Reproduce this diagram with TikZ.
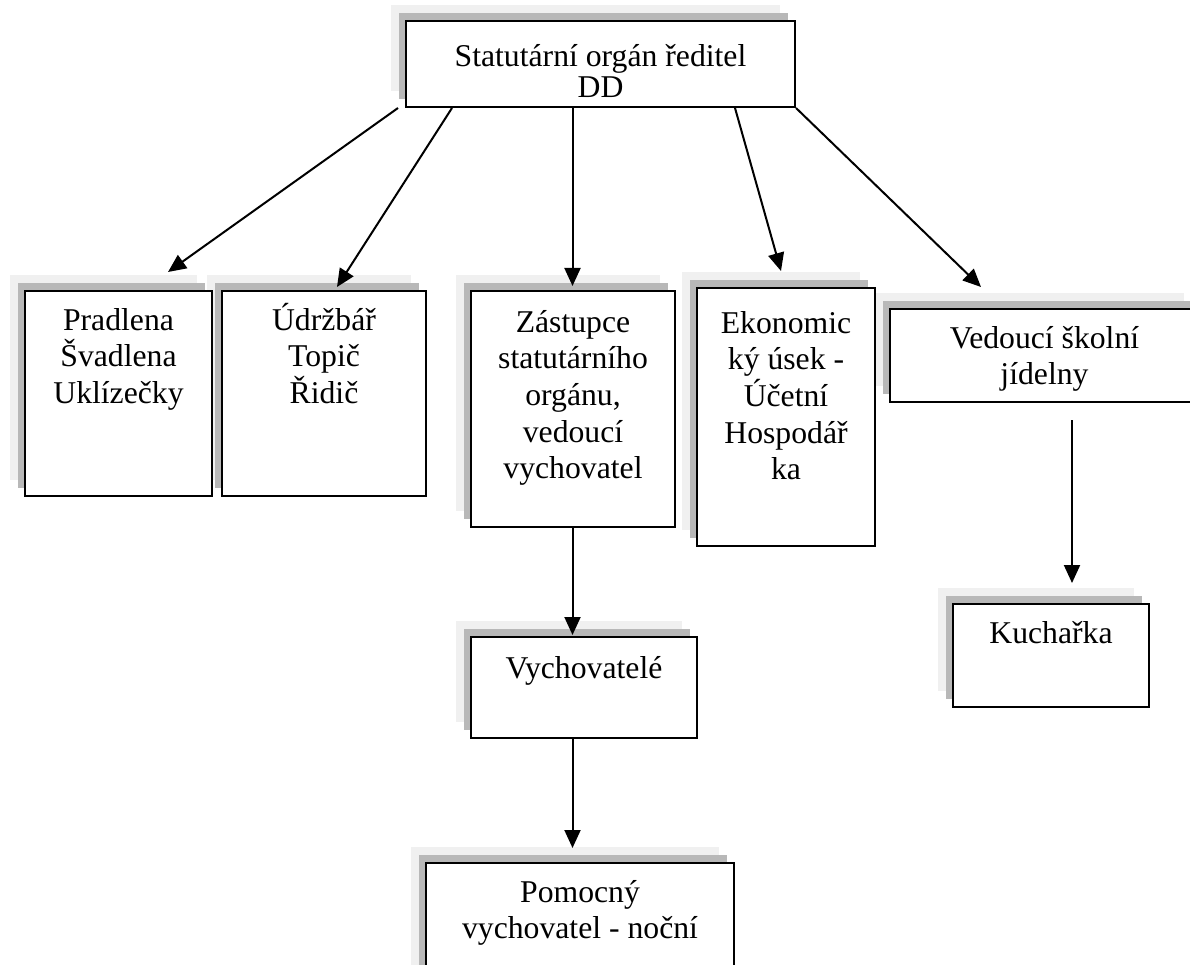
\documentclass[tikz,border=0pt]{standalone}
\usepackage{fontspec}
\setmainfont{Liberation Serif}
\usetikzlibrary{arrows.meta,shadows,calc}
\definecolor{shlight}{HTML}{F0F0F0}
\definecolor{shdark}{HTML}{B8B8B8}
\begin{document}
\begin{tikzpicture}[x=1pt,y=-1pt,
  box/.style={draw=black, line width=2pt, fill=white, rectangle, inner sep=0pt, outer sep=0pt,
    general shadow={fill=shlight, draw=none, shadow xshift=-15pt, shadow yshift=16pt},
    general shadow={fill=shdark, draw=none, shadow xshift=-7.5pt, shadow yshift=8pt}},
  txt/.style={align=center, inner sep=0pt, anchor=base, font=\fontsize{31.7}{36.7}\selectfont},
  conn/.style={line width=2pt, -{Triangle[length=18pt,width=16pt]}}
]
\useasboundingbox (0,0) rectangle (1190,965);

% boxes
\node[box, minimum width=389pt, minimum height=86pt] (top) at (600.5,64) {};
\node[box, minimum width=204pt, minimum height=205pt] (udr) at (324,393.5) {};
\node[box, minimum width=187pt, minimum height=205pt] (pra) at (118.5,393.5) {};
\node[box, minimum width=204pt, minimum height=236pt] (zas) at (573,409) {};
\node[box, minimum width=309pt, minimum height=93pt] (ved) at (1044.5,355.5) {};
\node[box, minimum width=178pt, minimum height=258pt] (eko) at (786,417) {};
\node[box, minimum width=196pt, minimum height=103pt] (kuc) at (1051,655.5) {};
\node[box, minimum width=226pt, minimum height=101pt] (vyc) at (584,687.5) {};
\node[box, minimum width=308pt, minimum height=137pt] (pom) at (580,931.5) {};

% texts (anchor base = baseline of the last line)
\node[txt, font=\fontsize{31.7}{31}\selectfont] (topT) at ([yshift=-77pt]top.north) {Statutární orgán ředitel\\DD};
\node[txt] (praT) at ([yshift=-112.4pt]pra.north) {Pradlena\\Švadlena\\Uklízečky};
\node[txt] (udrT) at ([yshift=-112.4pt]udr.north) {Údržbář\\Topič\\Řidič};
\node[txt] (zasT) at ([yshift=-187.8pt]zas.north) {Zástupce\\statutárního\\orgánu,\\vedoucí\\vychovatel};
\node[txt] (ekoT) at ([yshift=-191.8pt]eko.north) {Ekonomic\\ký úsek -\\Účetní\\Hospodář\\ka};
\node[txt] (vedT) at ([yshift=-75.7pt]ved.north) {Vedoucí školní\\jídelny};
\node[txt] (kucT) at ([yshift=-39pt]kuc.north) {Kuchařka};
\node[txt] (vycT) at ([yshift=-41pt]vyc.north) {Vychovatelé};
\node[txt] (pomT) at ([yshift=-75.7pt]pom.north) {Pomocný\\vychovatel - noční};

% connector end points
\coordinate (s1) at (398,108);  \coordinate (e1) at (168,272);
\coordinate (s2) at (452,108);  \coordinate (e2) at (337,287);
\coordinate (s3) at (572.5,107); \coordinate (e3) at (572.5,286);
\coordinate (s4) at (735,108);  \coordinate (e4) at (781,271);
\coordinate (s5) at (796,108);  \coordinate (e5) at (981,287);
\coordinate (s6) at (572.5,527); \coordinate (e6) at (572.5,635);
\coordinate (s7) at (572.5,738); \coordinate (e7) at (572.5,848);
\coordinate (s8) at (1072,420); \coordinate (e8) at (1072,583);

\draw[conn] (s1) -- (e1);
\draw[conn] (s2) -- (e2);
\draw[conn] (s3) -- (e3);
\draw[conn] (s4) -- (e4);
\draw[conn] (s5) -- (e5);
\draw[conn] (s6) -- (e6);
\draw[conn] (s7) -- (e7);
\draw[conn] (s8) -- (e8);
\end{tikzpicture}
\end{document}
